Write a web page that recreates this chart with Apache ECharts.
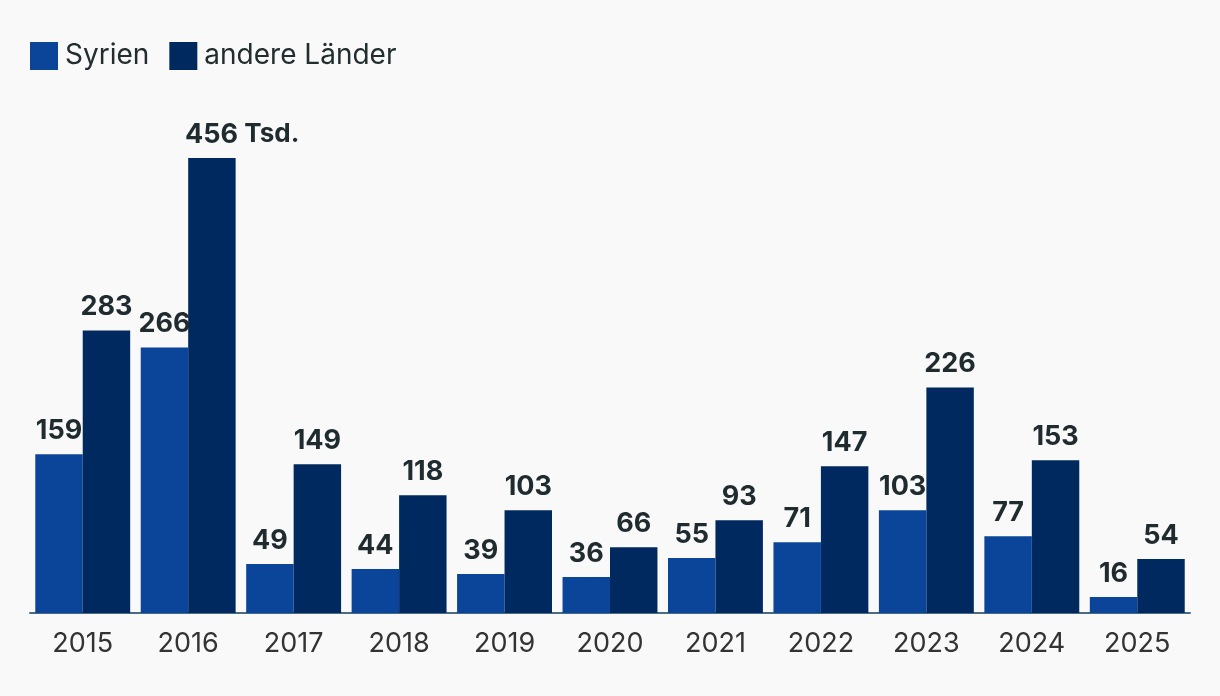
<!DOCTYPE html>
<html><head><meta charset="utf-8">
<script src="https://cdn.jsdelivr.net/npm/echarts@6/dist/echarts.min.js"></script>
<style>html,body{margin:0;padding:0;background:#f9f9f9;}#c{width:1220px;height:696px;}</style>
</head><body><div id="c"></div>
<script>
const categories = ['2015','2016','2017','2018','2019','2020','2021','2022','2023','2024','2025'];
const syrien = [159,266,49,44,39,36,55,71,103,77,16];
const andere = [283,456,149,118,103,66,93,147,226,153,54];
const seriesNames = ['Syrien','andere Länder'];
const unitSuffix = 'Tsd.';

const chart = echarts.init(document.getElementById('c'));
const labelStyle = {show:true, position:'top', distance:10, color:'#1f2b2f', fontFamily:'Inter', fontWeight:'bold', fontSize:27};
const maxVal = Math.max(...andere);
const andereData = andere.map(v => v === maxVal ? {
  value: v,
  label: {formatter: '{v|{c}} {u|' + unitSuffix + '}', align:'left', offset:[-27,0],
    rich:{v:{fontFamily:'Inter',fontWeight:'bold',fontSize:27,color:'#1f2b2f'}, u:{fontFamily:'Inter',fontWeight:'bold',fontSize:26,color:'#1f2b2f'}}}
} : v);
chart.setOption({
  backgroundColor:'#f9f9f9',
  animation:false,
  legend:{left:25, top:37, itemWidth:28, itemHeight:28, itemGap:20, icon:'rect',
    textStyle:{fontFamily:'Inter', fontSize:28, color:'#222d30', padding:[0,0,0,2]}},
  grid:{left:30, right:30, top:158, bottom:83, containLabel:false},
  xAxis:{type:'category', data:categories,
    axisLine:{lineStyle:{color:'#4b6b83', width:2}}, axisTick:{show:false},
    axisLabel:{fontFamily:'Inter', fontSize:27, color:'#333', margin:17}},
  yAxis:{type:'value', min:0, max:maxVal, show:false, splitLine:{show:false}},
  series:[
    {name:seriesNames[0], type:'bar', data:syrien, itemStyle:{color:'#0b4599'}, barGap:'0%', barCategoryGap:'10%', label:labelStyle},
    {name:seriesNames[1], type:'bar', data:andereData, itemStyle:{color:'#00295f'}, label:labelStyle}
  ]
});
</script></body></html>
